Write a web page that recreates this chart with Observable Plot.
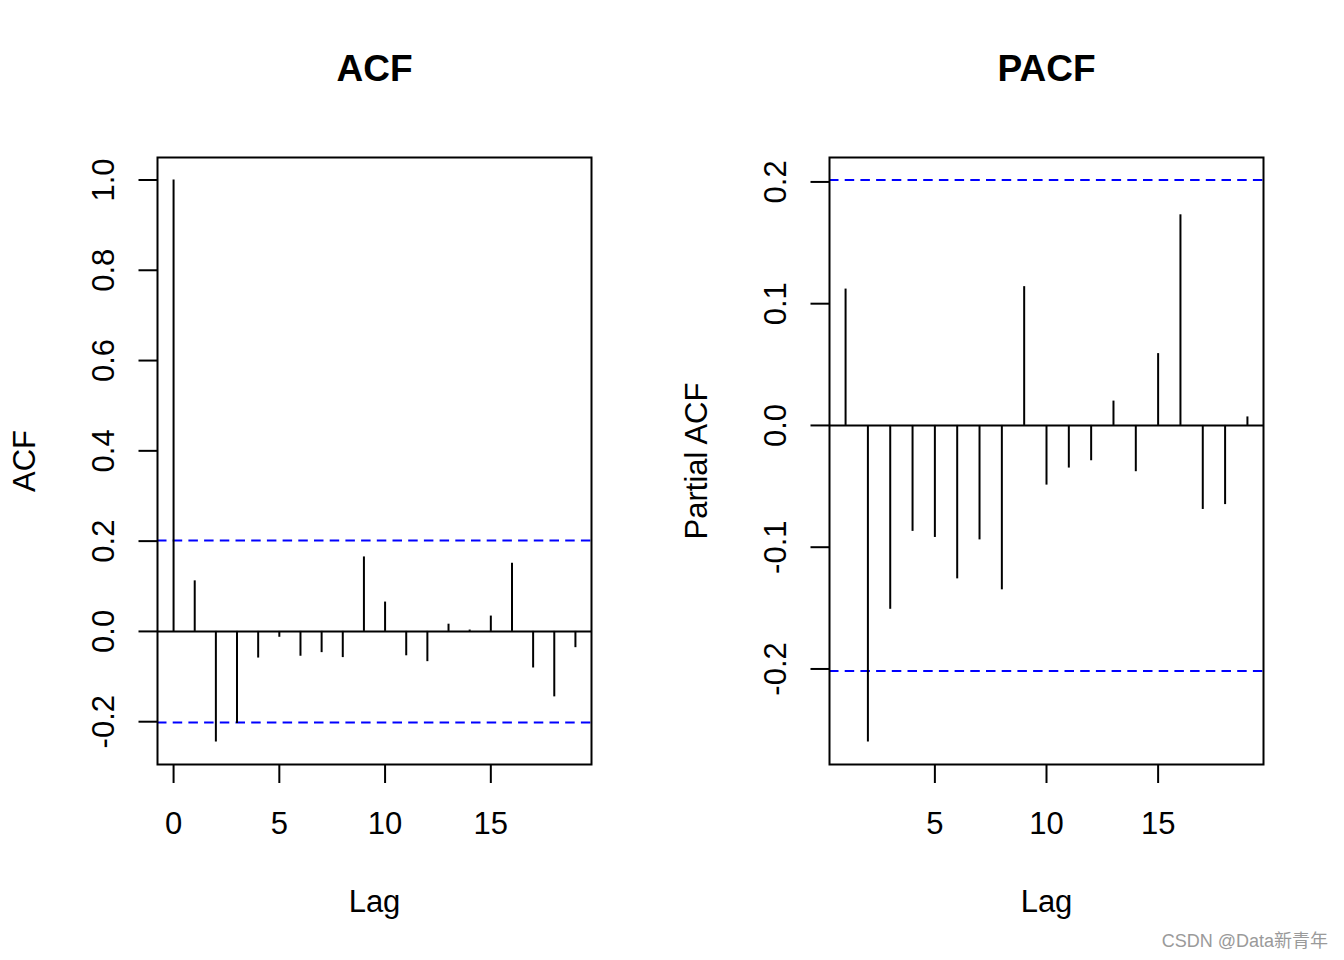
<!DOCTYPE html>
<html>
<head>
<meta charset="utf-8">
<script src="https://cdn.jsdelivr.net/npm/d3@7"></script>
<script src="https://cdn.jsdelivr.net/npm/@observablehq/plot@0.6"></script>
<style>
  html, body { margin: 0; padding: 0; background: #fff; }
  #wrap { position: relative; width: 1344px; height: 960px; }
  #left { position: absolute; left: 0; top: 0; }
  #right { position: absolute; left: 672px; top: 0; }
  #mark { position: absolute; right: 16px; top: 932px; font: 18px/18px "Liberation Sans", "Noto Sans CJK SC", sans-serif; color: #9a9a9a; white-space: nowrap; }
</style>
</head>
<body>
<div id="wrap">
  <div id="left"></div>
  <div id="right"></div>
  <div id="mark">CSDN @Data新青年</div>
</div>
<script>
// ---- data ----
const acfLags = [0, 1, 2, 3, 4, 5, 6, 7, 8, 9, 10, 11, 12, 13, 14, 15, 16, 17, 18, 19];
const acfValues = [1.000, 0.112, -0.245, -0.204, -0.059, -0.013, -0.055, -0.047, -0.058, 0.165,
                   0.065, -0.054, -0.067, 0.016, 0.003, 0.034, 0.151, -0.081, -0.145, -0.036];
const pacfLags = [1, 2, 3, 4, 5, 6, 7, 8, 9, 10, 11, 12, 13, 14, 15, 16, 17, 18, 19];
const pacfValues = [0.112, -0.260, -0.151, -0.087, -0.092, -0.126, -0.094, -0.135, 0.114, -0.049,
                    -0.035, -0.029, 0.020, -0.038, 0.059, 0.173, -0.069, -0.065, 0.007];
const ciLimit = 0.2016;
const acfXTicks = [0, 5, 10, 15];
const acfYTicks = [-0.2, 0.0, 0.2, 0.4, 0.6, 0.8, 1.0];
const pacfXTicks = [5, 10, 15];
const pacfYTicks = [-0.2, -0.1, 0.0, 0.1, 0.2];
const titles = ["ACF", "PACF"];
const yLabels = ["ACF", "Partial ACF"];
const xLabel = "Lag";

// R-style axis range: data range extended by 4% on each side
function rRange(vals) {
  const [lo, hi] = d3.extent(vals);
  const pad = (hi - lo) * 0.04;
  return [lo - pad, hi + pad];
}

function corrPlot({lags, values, xTicks, yTicks, title, yLabel}) {
  const rows = lags.map((lag, i) => ({lag, value: values[i]}));
  return Plot.plot({
    width: 672,
    height: 960,
    marginLeft: 157,
    marginRight: 81,
    marginTop: 157,
    marginBottom: 196,
    style: {fontFamily: "'Liberation Sans', Arial, sans-serif", fontSize: "31px", color: "#000", background: "#fff", overflow: "visible"},
    x: {type: "linear", domain: rRange(lags)},
    y: {type: "linear", domain: rRange([...values, ciLimit, -ciLimit])},
    marks: [
      Plot.ruleY([0], {stroke: "#000", strokeWidth: 2}),
      Plot.ruleY([ciLimit, -ciLimit], {stroke: "#0000ff", strokeWidth: 2, strokeDasharray: "9.5,6.2"}),
      Plot.ruleX(rows, {x: "lag", y1: 0, y2: "value", stroke: "#000", strokeWidth: 2}),
      Plot.frame({stroke: "#000", strokeWidth: 2}),
      Plot.axisY({
        ticks: yTicks, tickSize: 18.5, tickPadding: 25.5, tickRotate: -90,
        textAnchor: "middle", lineAnchor: "bottom",
        tickFormat: d => d.toFixed(1), strokeWidth: 2, fontSize: 31, label: null
      }),
      Plot.axisX({
        ticks: xTicks, tickSize: 19, tickPadding: 50.5, lineAnchor: "bottom",
        tickFormat: d => String(d), strokeWidth: 2, fontSize: 31, label: null
      }),
      Plot.text([title], {frameAnchor: "top", dy: -76.3, lineAnchor: "bottom", text: d => d, fontSize: 37, fontWeight: "bold"}),
      Plot.text([xLabel], {frameAnchor: "bottom", dy: 147, lineAnchor: "bottom", text: d => d, fontSize: 31}),
      Plot.text([yLabel], {frameAnchor: "left", dx: -123, rotate: -90, textAnchor: "middle", lineAnchor: "bottom", text: d => d, fontSize: 31})
    ]
  });
}

document.getElementById("left").append(corrPlot({
  lags: acfLags, values: acfValues, xTicks: acfXTicks, yTicks: acfYTicks, title: titles[0], yLabel: yLabels[0]
}));
document.getElementById("right").append(corrPlot({
  lags: pacfLags, values: pacfValues, xTicks: pacfXTicks, yTicks: pacfYTicks, title: titles[1], yLabel: yLabels[1]
}));
</script>
</body>
</html>
